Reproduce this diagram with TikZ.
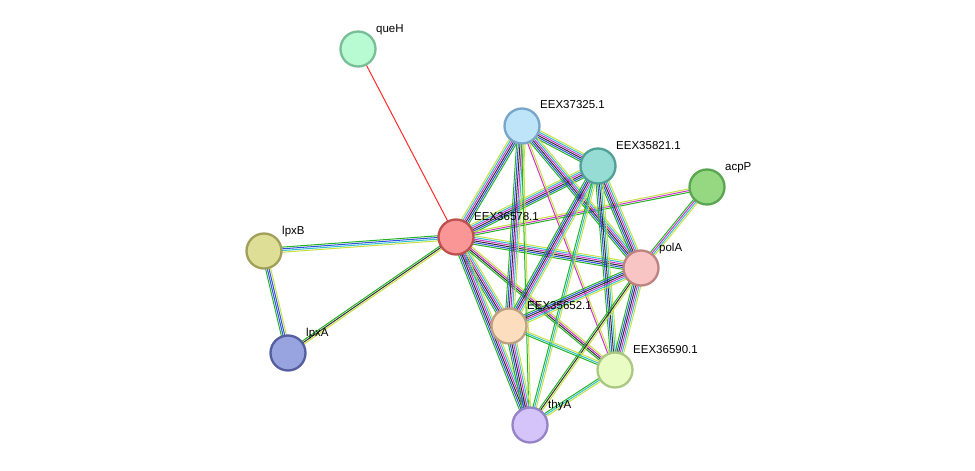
\documentclass[tikz,border=0pt]{standalone}
\usepackage{fontspec}
\setmainfont{Liberation Sans}
\usetikzlibrary{calc,backgrounds}
\definecolor{cG}{HTML}{22B422}
\definecolor{cR}{HTML}{FF2A2A}
\definecolor{cB}{HTML}{3050E0}
\definecolor{cK}{HTML}{303030}
\definecolor{cM}{HTML}{D030D0}
\definecolor{cC}{HTML}{30C0D0}
\definecolor{cY}{HTML}{C8E040}
\tikzset{
 prot/.style={circle,minimum size=35pt,inner sep=0pt,line width=2.3pt},
 lab/.style={anchor=base west,font=\fontsize{11.5}{12}\selectfont,text=black,inner sep=0pt},
}
\newcommand\E[3]{%
 \def\na{#1}\def\nb{#2}%
 \foreach \c [count=\i] in {#3}{\xdef\nn{\i}}%
 \foreach \c [count=\i] in {#3}{%
  \pgfmathsetmacro\off{(\i-(\nn+1)/2)*1.7}
  \draw[\c,line width=1pt] ($(\na)!\off pt!90:(\nb)$) -- ($(\nb)!\off pt!-90:(\na)$);}}
\begin{document}
\begin{tikzpicture}[x=1pt,y=-1pt]
\useasboundingbox (0,0) rectangle (975,471);
\node[prot,fill={rgb,255:red,184;green,250;blue,210},draw={rgb,255:red,120;green,190;blue,150}] (queH) at (358,49) {};
\node[prot,fill={rgb,255:red,190;green,228;blue,250},draw={rgb,255:red,120;green,165;blue,200}] (e37325) at (522,126) {};
\node[prot,fill={rgb,255:red,150;green,220;blue,212},draw={rgb,255:red,80;green,160;blue,150}] (e35821) at (598,166) {};
\node[prot,fill={rgb,255:red,150;green,215;blue,130},draw={rgb,255:red,90;green,165;blue,80}] (acpP) at (707,187) {};
\node[prot,fill={rgb,255:red,250;green,150;blue,150},draw={rgb,255:red,190;green,80;blue,80}] (e36578) at (456,237) {};
\node[prot,fill={rgb,255:red,222;green,222;blue,150},draw={rgb,255:red,160;green,160;blue,90}] (lpxB) at (264,251) {};
\node[prot,fill={rgb,255:red,248;green,196;blue,196},draw={rgb,255:red,190;green,130;blue,130}] (polA) at (641,268) {};
\node[prot,fill={rgb,255:red,252;green,222;blue,190},draw={rgb,255:red,190;green,160;blue,130}] (e35652) at (509,326) {};
\node[prot,fill={rgb,255:red,152;green,164;blue,224},draw={rgb,255:red,85;green,95;blue,160}] (lpxA) at (288,353) {};
\node[prot,fill={rgb,255:red,232;green,252;blue,196},draw={rgb,255:red,170;green,200;blue,130}] (e36590) at (615,370) {};
\node[prot,fill={rgb,255:red,212;green,196;blue,250},draw={rgb,255:red,150;green,130;blue,200}] (thyA) at (530,425) {};
\begin{scope}[on background layer]
\E{queH}{e36578}{cR}
\E{e36578}{e37325}{cG,cB,cK,cM,cC,cY}
\E{e36578}{e35821}{cG,cB,cK,cM,cC,cY}
\E{e36578}{acpP}{cG,cM,cY}
\E{e36578}{polA}{cG,cB,cK,cM,cC,cY}
\E{e36578}{e35652}{cG,cB,cK,cM,cC,cY}
\E{e36578}{e36590}{cG,cK,cM,cY}
\E{e36578}{thyA}{cG,cB,cK,cM,cC,cY}
\E{e36578}{lpxB}{cG,cB,cC,cY}
\E{e36578}{lpxA}{cG,cK,cY}
\E{lpxB}{lpxA}{cG,cB,cB,cY}
\E{e37325}{e35821}{cG,cB,cK,cM,cC,cY}
\E{e37325}{polA}{cG,cB,cK,cM,cC,cY}
\E{e37325}{e35652}{cG,cB,cK,cM,cC,cY}
\E{e37325}{e36590}{cM,cY}
\E{e37325}{thyA}{cG,cY}
\E{e35821}{polA}{cG,cB,cK,cM,cC,cY}
\E{e35821}{e35652}{cG,cB,cK,cM,cC,cY}
\E{e35821}{e36590}{cG,cB,cK,cC,cY}
\E{e35821}{thyA}{cG,cC,cY}
\E{acpP}{polA}{cG,cM,cC,cY}
\E{polA}{e35652}{cG,cB,cK,cM,cC,cY}
\E{polA}{e36590}{cG,cB,cK,cM,cC,cY}
\E{polA}{thyA}{cG,cK,cY}
\E{e35652}{e36590}{cG,cC,cY}
\E{e35652}{thyA}{cG,cB,cK,cM,cC,cY}
\E{e36590}{thyA}{cG,cC,cY}
\end{scope}
\node[lab] (t1) at (376,32) {queH};
\node[lab] (t2) at (540,108) {EEX37325.1};
\node[lab] (t3) at (616,149) {EEX35821.1};
\node[lab] (t4) at (725,170) {acpP};
\node[lab] (t5) at (474,220) {EEX36578.1};
\node[lab] (t6) at (282,234) {lpxB};
\node[lab] (t7) at (659,251) {polA};
\node[lab] (t8) at (527,309) {EEX35652.1};
\node[lab] (t9) at (306,336) {lpxA};
\node[lab] (t10) at (633,353) {EEX36590.1};
\node[lab] (t11) at (548,408) {thyA};
\end{tikzpicture}
\end{document}
